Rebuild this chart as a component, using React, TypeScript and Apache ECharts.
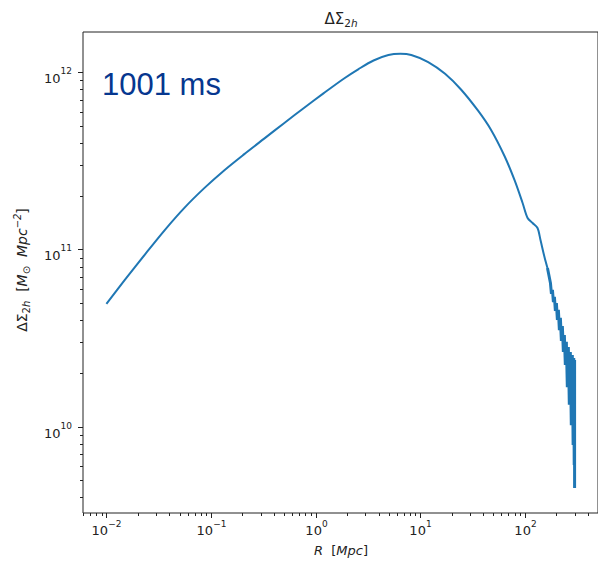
import { useEffect, useRef } from 'react';
import * as echarts from 'echarts';

// Main smooth part of the curve: R [Mpc] and ΔΣ_2h [M_sun Mpc^-2]
const MAIN_R = [
  0.01, 0.01506, 0.02332, 0.03614, 0.05597, 0.08675, 0.1344, 0.2082, 0.3226, 0.4996,
  0.774, 1.199, 1.858, 2.58, 3.583, 4.975, 6.469, 8.229, 11.94, 17.32,
  24.59, 35.67, 47.42, 64.42, 80.17, 95.5, 106.6, 118.9, 132.6, 141.6,
  154.6, 165.1,
];
const MAIN_SIGMA = [
  4.93e10, 6.76e10, 9.37e10, 1.288e11, 1.724e11, 2.227e11, 2.803e11, 3.454e11, 4.225e11, 5.162e11,
  6.287e11, 7.63e11, 9.2e11, 1.043e12, 1.166e12, 1.252e12, 1.272e12, 1.252e12, 1.143e12, 9.81e11,
  8.0e11, 6.09e11, 4.755e11, 3.348e11, 2.452e11, 1.83e11, 1.506e11, 1.411e11, 1.322e11, 1.131e11,
  9.07e10, 7.86e10,
];
// Noisy oscillating tail at large R
const TAIL_R = [
  176.3, 180.2, 184.2, 188.2, 192.4, 196.6, 201.0, 205.4, 210.0, 214.6,
  219.4, 224.3, 229.2, 234.3, 239.5, 244.7, 250.2, 255.7, 261.4, 267.2,
  273.1, 279.1, 285.4, 290.5, 294.5, 297.5, 300.0, 300.0,
];
const TAIL_SIGMA = [
  6.47e10, 5.61e10, 5.91e10, 5.05e10, 5.4e10, 4.5e10, 4.99e10, 4.0e10, 4.56e10, 3.51e10,
  4.11e10, 3.05e10, 3.7e10, 2.64e10, 3.29e10, 2.23e10, 3.01e10, 1.67e10, 2.82e10, 1.33e10,
  2.64e10, 1.02e10, 2.54e10, 7.89e9, 2.44e10, 6.08e9, 2.38e10, 4.51e9,
];

const X_MAJOR_TICKS = [0.01, 0.1, 1, 10, 100];
const X_MAJOR_EXP = ['−2', '−1', '0', '1', '2'];
const Y_MAJOR_TICKS = [1e10, 1e11, 1e12];
const Y_MAJOR_EXP = ['10', '11', '12'];
const MINOR_MANTISSAS = [2, 3, 4, 5, 6, 7, 8, 9];
const X_MINOR_DECADES = [0.001, 0.01, 0.1, 1, 10, 100];
const Y_MINOR_DECADES = [1e9, 1e10, 1e11, 1e12];

const X_MIN = Math.pow(10, -2.2239);
const X_MAX = Math.pow(10, 2.701);
const Y_MIN = Math.pow(10, 9.513);
const Y_MAX = Math.pow(10, 12.2274);

const INK = '#222222';
const FONT = 'DejaVu Sans';

const TICK_RICH = {
  b: { fontSize: 13, fontFamily: FONT, lineHeight: 18, verticalAlign: 'bottom', fill: INK },
  s: { fontSize: 9, fontFamily: FONT, verticalAlign: 'top', fill: INK },
};

export default function App() {
  const ref = useRef<HTMLDivElement>(null);

  useEffect(() => {
    if (!ref.current) return;
    const chart = echarts.init(ref.current, undefined, { renderer: 'svg' });

    const mainData: number[][] = MAIN_R.map((r, i) => [r, MAIN_SIGMA[i]]);
    const last = mainData[mainData.length - 1];
    const tailData: number[][] = [last].concat(TAIL_R.map((r, i) => [r, TAIL_SIGMA[i]]));

    const xTickData: number[][] = [];
    X_MAJOR_TICKS.forEach((v, i) => xTickData.push([v, Y_MIN, 1, i]));
    X_MINOR_DECADES.forEach((d) =>
      MINOR_MANTISSAS.forEach((m) => {
        const v = m * d;
        if (v >= X_MIN && v <= X_MAX) xTickData.push([v, Y_MIN, 0, -1]);
      })
    );
    const yTickData: number[][] = [];
    Y_MAJOR_TICKS.forEach((v, i) => yTickData.push([X_MIN, v, 1, i]));
    Y_MINOR_DECADES.forEach((d) =>
      MINOR_MANTISSAS.forEach((m) => {
        const v = m * d;
        if (v >= Y_MIN && v <= Y_MAX) yTickData.push([X_MIN, v, 0, -1]);
      })
    );

    const option: any = {
      animation: false,
      grid: {
        left: 83,
        top: 32,
        width: 518,
        height: 481,
        show: true,
        borderColor: INK,
        borderWidth: 1,
        backgroundColor: 'transparent',
        containLabel: false,
      },
      xAxis: {
        type: 'log',
        logBase: 10,
        min: X_MIN,
        max: X_MAX,
        axisLine: { show: false },
        axisTick: { show: false },
        axisLabel: { show: false },
        splitLine: { show: false },
      },
      yAxis: {
        type: 'log',
        logBase: 10,
        min: Y_MIN,
        max: Y_MAX,
        axisLine: { show: false },
        axisTick: { show: false },
        axisLabel: { show: false },
        splitLine: { show: false },
      },
      series: [
        {
          type: 'line',
          data: mainData,
          symbol: 'none',
          showSymbol: false,
          smooth: 0.3,
          lineStyle: { color: '#1f77b4', width: 2 },
          z: 3,
        },
        {
          type: 'line',
          data: tailData,
          symbol: 'none',
          showSymbol: false,
          lineStyle: { color: '#1f77b4', width: 3 },
          z: 3,
        },
        {
          type: 'custom',
          coordinateSystem: 'cartesian2d',
          encode: { x: 0, y: 1 },
          data: xTickData,
          silent: true,
          z: 5,
          renderItem: (params: any, api: any) => {
            const v = api.value(0);
            const major = api.value(2);
            const idx = api.value(3);
            const pt = api.coord([v, Y_MIN]);
            const cs = params.coordSys;
            const x = Math.round(pt[0]) + 0.5;
            const yb = cs.y + cs.height;
            const len = major ? 5 : 3;
            const children: any[] = [
              {
                type: 'line',
                shape: { x1: x, y1: yb, x2: x, y2: yb + len },
                style: { stroke: INK, lineWidth: 1 },
              },
            ];
            if (major) {
              children.push({
                type: 'text',
                style: {
                  text: `{b|10}{s|${X_MAJOR_EXP[idx]}}`,
                  x: x,
                  y: yb + 6,
                  align: 'center',
                  verticalAlign: 'top',
                  rich: TICK_RICH,
                  fill: INK,
                },
              });
            }
            return { type: 'group', children };
          },
        },
        {
          type: 'custom',
          coordinateSystem: 'cartesian2d',
          encode: { x: 0, y: 1 },
          data: yTickData,
          silent: true,
          z: 5,
          renderItem: (params: any, api: any) => {
            const v = api.value(1);
            const major = api.value(2);
            const idx = api.value(3);
            const pt = api.coord([X_MIN, v]);
            const cs = params.coordSys;
            const y = Math.round(pt[1]) + 0.5;
            const xl = cs.x;
            const len = major ? 5 : 3;
            const children: any[] = [
              {
                type: 'line',
                shape: { x1: xl, y1: y, x2: xl - len, y2: y },
                style: { stroke: INK, lineWidth: 1 },
              },
            ];
            if (major) {
              children.push({
                type: 'text',
                style: {
                  text: `{b|10}{s|${Y_MAJOR_EXP[idx]}}`,
                  x: xl - 11,
                  y: y + 3,
                  align: 'right',
                  verticalAlign: 'middle',
                  rich: TICK_RICH,
                  fill: INK,
                },
              });
            }
            return { type: 'group', children };
          },
        },
      ],
      graphic: [
        {
          type: 'text',
          x: 341,
          y: 11,
          style: {
            text: '{b|ΔΣ}{s|2}{si|h}',
            align: 'center',
            verticalAlign: 'top',
            fill: INK,
            rich: {
              b: { fontSize: 15, fontFamily: FONT, verticalAlign: 'top', fill: INK },
              s: { fontSize: 10.5, fontFamily: FONT, lineHeight: 17, verticalAlign: 'bottom', fill: INK },
              si: { fontSize: 10.5, fontFamily: FONT, fontStyle: 'italic', lineHeight: 17, verticalAlign: 'bottom', fill: INK },
            },
          },
        },
        {
          type: 'text',
          x: 341,
          y: 550,
          style: {
            text: '{i|R}{b|  [}{i|Mpc}{b|]}',
            align: 'center',
            verticalAlign: 'middle',
            fill: INK,
            rich: {
              b: { fontSize: 13, fontFamily: FONT, fill: INK },
              i: { fontSize: 13, fontFamily: FONT, fontStyle: 'italic', fill: INK },
            },
          },
        },
        {
          type: 'text',
          x: 22,
          y: 270,
          rotation: Math.PI / 2,
          style: {
            text: '{b|ΔΣ}{s|2}{si|h}{b|  [}{i|M}{s|⊙}{b|  }{i|Mpc}{si2|−2}{b|]}',
            align: 'center',
            verticalAlign: 'middle',
            fill: INK,
            rich: {
              b: { fontSize: 14, fontFamily: FONT, lineHeight: 19, verticalAlign: 'middle', fill: INK },
              i: { fontSize: 14, fontFamily: FONT, fontStyle: 'italic', lineHeight: 19, verticalAlign: 'middle', fill: INK },
              s: { fontSize: 10, fontFamily: FONT, verticalAlign: 'bottom', fill: INK },
              si: { fontSize: 10, fontFamily: FONT, fontStyle: 'italic', verticalAlign: 'bottom', fill: INK },
              si2: { fontSize: 10, fontFamily: FONT, fontStyle: 'italic', verticalAlign: 'top', fill: INK },
            },
          },
        },
        {
          type: 'text',
          x: 102,
          y: 84,
          style: {
            text: '1001 ms',
            fontSize: 31,
            fontFamily: 'Liberation Sans',
            fill: '#06378f',
            align: 'left',
            verticalAlign: 'middle',
          },
        },
      ],
    };

    chart.setOption(option);
    return () => chart.dispose();
  }, []);

  return (
    <div
      ref={ref}
      style={{ position: 'absolute', left: 0, top: 0, width: 598, height: 564, background: '#fff' }}
    />
  );
}
